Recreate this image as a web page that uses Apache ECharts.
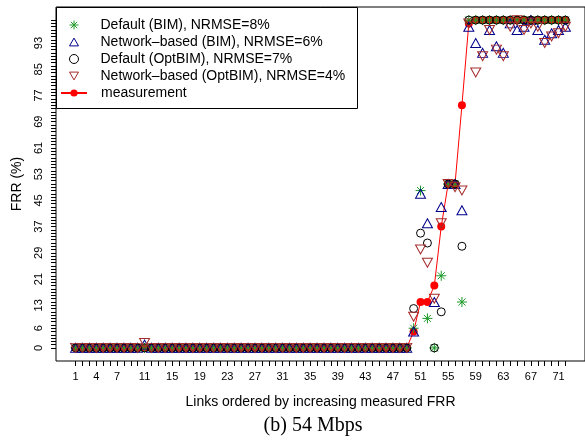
<!DOCTYPE html>
<html>
<head>
<meta charset="utf-8">
<script src="https://cdn.jsdelivr.net/npm/echarts@6/dist/echarts.min.js"></script>
<style>
  html, body { margin: 0; padding: 0; background: #fff; }
  #chart { width: 585px; height: 441px; }
</style>
</head>
<body>
<div id="chart"></div>
<script>
// links 1..72, ordered by increasing measured FRR
const X_LABELS = [1, 4, 7, 11, 15, 19, 23, 27, 31, 35, 39, 43, 47, 51, 55, 59, 63, 67, 71]
const Y_LABELS = [0, 6, 13, 21, 29, 37, 45, 53, 61, 69, 77, 85, 93]

const measurement = [
  0, 0, 0, 0, 0, 0, 0, 0, 0, 0, 0, 0, 0, 0, 0, 0, 0, 0, 0, 0,
  0, 0, 0, 0, 0, 0, 0, 0, 0, 0, 0, 0, 0, 0, 0, 0, 0, 0, 0, 0,
  0, 0, 0, 0, 0, 0, 0, 0, 0,
  5, 14, 14, 19, 37, 50, 50, 74, 99,
  100, 100, 100, 100, 100, 100, 100, 100, 100, 100, 100, 100, 100, 100
]
const defaultBIM = [
  0, 0, 0, 0, 0, 0, 0, 0, 0, 0, 0, 0, 0, 0, 0, 0, 0, 0, 0, 0,
  0, 0, 0, 0, 0, 0, 0, 0, 0, 0, 0, 0, 0, 0, 0, 0, 0, 0, 0, 0,
  0, 0, 0, 0, 0, 0, 0, 0, 0,
  6, 48, 9, 0, 22, 50, 50, 14, 100,
  100, 100, 100, 100, 100, 100, 100, 100, 100, 100, 100, 100, 100, 100
]
const networkBIM = [
  0, 0, 0, 0, 0, 0, 0, 0, 0, 0, 1, 0, 0, 0, 0, 0, 0, 0, 0, 0,
  0, 0, 0, 0, 0, 0, 0, 0, 0, 0, 0, 0, 0, 0, 0, 0, 0, 0, 0, 0,
  0, 0, 0, 0, 0, 0, 0, 0, 0,
  5, 47, 38, 14, 43, 50, 50, 42, 98,
  93, 90, 97, 92, 90, 99, 97, 98, 100, 97, 94, 96, 97, 98
]
const defaultOptBIM = [
  0, 0, 0, 0, 0, 0, 0, 0, 0, 0, 0, 0, 0, 0, 0, 0, 0, 0, 0, 0,
  0, 0, 0, 0, 0, 0, 0, 0, 0, 0, 0, 0, 0, 0, 0, 0, 0, 0, 0, 0,
  0, 0, 0, 0, 0, 0, 0, 0, 0,
  12, 35, 32, 0, 11, 50, 50, 31, 100,
  100, 100, 100, 100, 100, 100, 100, 100, 100, 100, 100, 100, 100, 100
]
const networkOptBIM = [
  0, 0, 0, 0, 0, 0, 0, 0, 0, 0, 1.5, 0, 0, 0, 0, 0, 0, 0, 0, 0,
  0, 0, 0, 0, 0, 0, 0, 0, 0, 0, 0, 0, 0, 0, 0, 0, 0, 0, 0, 0,
  0, 0, 0, 0, 0, 0, 0, 0, 0,
  9.5, 30, 26, 15, 38, 50, 49, 48, 99,
  84, 89, 97, 91, 89, 98, 100, 97, 99, 98, 93, 95, 96, 98
]

const X_TICKS = measurement.map((v, i) => i + 1)
const Y_TICKS = []
for (let v = 0; v <= 100; v++) Y_TICKS.push(v)

const FONT = 'Liberation Sans'
const ASTERISK = 'path://M5,0L5,10M0,5L10,5M1.5,1.5L8.5,8.5M1.5,8.5L8.5,1.5'
const TRI_UP = 'path://M5,0L10,8.66L0,8.66Z'
const TRI_DOWN = 'path://M0,0L10,0L5,8.66Z'

const pts = arr => arr.map((v, i) => [i + 1, v])

function hollow(name, data, symbol, size, color) {
  return {
    name, type: 'scatter', data: pts(data), symbol, symbolSize: size,
    itemStyle: { color: 'transparent', borderColor: color, borderWidth: 1, opacity: 1 },
    emphasis: { disabled: true }, z: 3
  }
}

const chart = echarts.init(document.getElementById('chart'), null, { renderer: 'canvas' })

const legendText = pad => ({
  fontFamily: FONT, fontSize: 14, color: '#000', lineHeight: 17, padding: [0, 0, 0, pad]
})

chart.setOption({
  animation: false,
  textStyle: { fontFamily: FONT },
  grid: {
    left: 56, top: 7, width: 533, height: 354,
    show: true, borderColor: '#000', borderWidth: 1, backgroundColor: 'transparent'
  },
  legend: [{
    data: ['Default (BIM), NRMSE=8%', 'Network\u2013based (BIM), NRMSE=6%',
      'Default (OptBIM), NRMSE=7%', 'Network\u2013based (OptBIM), NRMSE=4%'],
    orient: 'vertical', left: 69, top: 16.5, padding: 0, itemGap: 0,
    itemWidth: 9, itemHeight: 9, selectedMode: false,
    itemStyle: { borderWidth: 1 },
    textStyle: legendText(17)
  }, {
    data: ['measurement'],
    orient: 'vertical', left: 60, top: 84.5, padding: 0, itemGap: 0,
    itemWidth: 26, itemHeight: 9, selectedMode: false,
    textStyle: legendText(9)
  }],
  graphic: [{
    type: 'rect', z: 1, silent: true,
    shape: { x: 56.5, y: 7.5, width: 301, height: 101 },
    style: { fill: '#fff', stroke: '#000', lineWidth: 1 }
  }, {
    type: 'text', silent: true, x: 313, y: 426,
    style: {
      text: '(b) 54 Mbps', font: '20px "Liberation Serif"', fill: '#000',
      align: 'center', verticalAlign: 'middle'
    }
  }],
  xAxis: {
    type: 'value', min: -1.84, max: 74.84,
    name: 'Links ordered by increasing measured FRR',
    nameLocation: 'middle', nameGap: 34,
    nameTextStyle: { fontFamily: FONT, fontSize: 14, color: '#000' },
    axisLine: { show: false, onZero: false },
    axisTick: { show: true, customValues: X_TICKS, length: 5, inside: false, lineStyle: { color: '#000' } },
    axisLabel: { customValues: X_LABELS, fontFamily: FONT, fontSize: 11, color: '#000', margin: 10 },
    splitLine: { show: false }
  },
  yAxis: {
    type: 'value', min: -4, max: 104,
    name: 'FRR (%)', nameLocation: 'middle', nameGap: 32,
    nameTextStyle: { fontFamily: FONT, fontSize: 14, color: '#000' },
    axisLine: { show: false, onZero: false },
    axisTick: { show: true, customValues: Y_TICKS, length: 5, inside: false, lineStyle: { color: '#000' } },
    axisLabel: { customValues: Y_LABELS, rotate: 90, fontFamily: FONT, fontSize: 11, color: '#000', margin: 12 },
    splitLine: { show: false }
  },
  series: [
    {
      name: 'measurement', type: 'line', data: pts(measurement),
      symbol: 'circle', symbolSize: 8, showSymbol: true, z: 2,
      lineStyle: { color: '#ff0000', width: 1 },
      itemStyle: { color: '#ff0000', borderWidth: 0 },
      emphasis: { disabled: true }
    },
    hollow('Default (BIM), NRMSE=8%', defaultBIM, ASTERISK, 10, '#1f9a2a'),
    hollow('Network\u2013based (BIM), NRMSE=6%', networkBIM, TRI_UP, [10, 9], '#00008b'),
    hollow('Default (OptBIM), NRMSE=7%', defaultOptBIM, 'circle', 8, '#000000'),
    hollow('Network\u2013based (OptBIM), NRMSE=4%', networkOptBIM, TRI_DOWN, [10, 9], '#a52a2a')
  ]
})
</script>
</body>
</html>
